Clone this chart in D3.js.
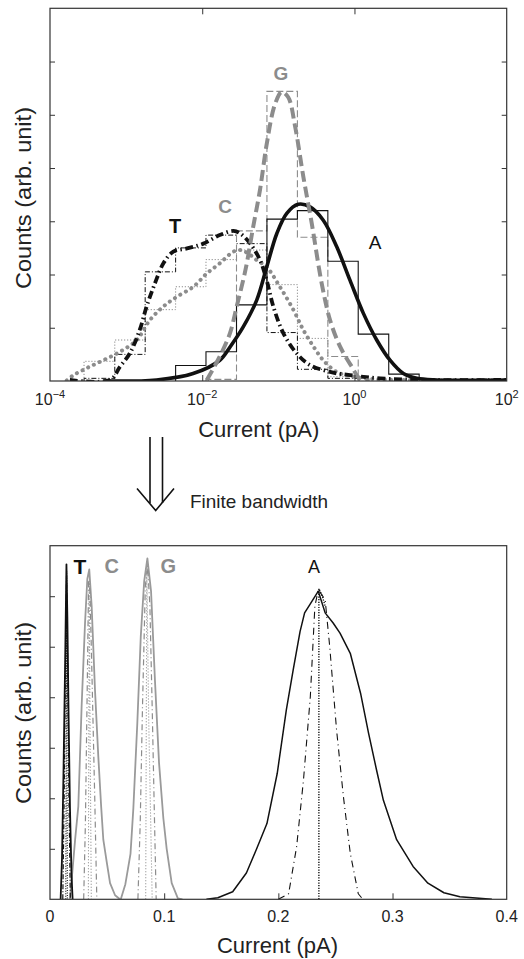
<!DOCTYPE html>
<html><head><meta charset="utf-8">
<script src="https://cdn.jsdelivr.net/npm/d3@7"></script>
<style>
html,body{margin:0;padding:0;background:#fff;}
svg{display:block;font-family:"Liberation Sans",Arial,Helvetica,sans-serif;}
</style></head>
<body>
<svg id="chart" width="524" height="959"></svg>
<script>
// ---------------- DATA ----------------
// Top panel: histogram bin edges (pA, log-spaced) and bin heights
const binEdges = [0.00028,0.00071,0.00178,0.00447,0.0112,0.0282,0.0708,0.178,0.447,1.12,2.82,7.08];
const histA = [0,0,0,0.29,0.55,1.43,3.04,3.2,2.25,0.88,0.13];
const histG = [0,0,0,0,0.03,2.82,5.44,2.7,0.46,0,0];
const histT = [0.05,0.5,2.05,2.5,2.74,2.58,0.91,0.22,0.05,0,0];
const histC = [0.37,0.77,1.34,1.77,2.28,2.46,1.81,0.8,0.08,0,0];

// Top panel: fitted curves [current pA, counts]
const curveA = [[0.0005,0],[0.00251,0.02],[0.00759,0.14],[0.017,0.39],[0.0232,0.64],[0.0347,1.02],[0.052,1.52],[0.0703,2.14],[0.0955,2.77],[0.129,3.15],[0.183,3.32],[0.261,3.27],[0.389,3.02],[0.585,2.52],[0.875,1.89],[1.31,1.27],[1.96,0.77],[2.93,0.39],[4.39,0.14],[6.58,0.05],[12,0.02],[100,0.02]];
const curveG = [[0.01148,0.02],[0.01698,0.46],[0.02317,0.9],[0.02838,1.4],[0.03715,2.1],[0.04677,2.9],[0.05754,3.6],[0.07031,4.45],[0.09036,5.2],[0.1107,5.43],[0.1349,5.33],[0.166,4.78],[0.2128,3.84],[0.2754,2.95],[0.3715,1.83],[0.4786,1.14],[0.6457,0.65],[0.9204,0.27],[1.183,0.04],[1.585,0.01]];
const curveT = [[0.000182,0.02],[0.000617,0.02],[0.000832,0.27],[0.00112,0.52],[0.00151,0.96],[0.00186,1.4],[0.0024,1.84],[0.00309,2.21],[0.00417,2.43],[0.00631,2.49],[0.01033,2.58],[0.01698,2.74],[0.0257,2.82],[0.03162,2.77],[0.04266,2.58],[0.05754,2.27],[0.07031,1.89],[0.0859,1.4],[0.1161,0.9],[0.1738,0.52],[0.2606,0.3],[0.4786,0.17],[0.875,0.11],[2.188,0.05],[10,0.02],[100,0.02]];
const curveC = [[0.000166,0.01],[0.000204,0.11],[0.000302,0.24],[0.000501,0.39],[0.000832,0.55],[0.00138,0.77],[0.00204,1.14],[0.00309,1.4],[0.00462,1.58],[0.00764,1.77],[0.01148,2.02],[0.01698,2.21],[0.0257,2.43],[0.0316,2.46],[0.0398,2.4],[0.052,2.27],[0.0703,2.14],[0.1047,1.77],[0.1585,1.33],[0.2128,0.96],[0.2884,0.65],[0.389,0.39],[0.585,0.17],[0.966,0.08],[2.19,0.03],[100,0.02]];

const topTicksX = [1e-4,1e-2,1,1e2];
const topTickLabels = [["10","−4"],["10","−2"],["10","0"],["10","2"]];
const yTicks = [1,2,3,4,5,6];

// Bottom panel: finite-bandwidth distributions [current pA, counts]
const botT_solid = [[0.0093,0],[0.0105,0.8],[0.0118,2.5],[0.0132,4.6],[0.0144,6.63],[0.0152,5.6],[0.0163,3.6],[0.0175,1.8],[0.0188,0.5],[0.0198,0]];
const botT_dashdot = [[0.0112,0],[0.0124,2.0],[0.0136,4.8],[0.0145,6.4],[0.0155,4.6],[0.0166,2.0],[0.0178,0]];
const botT_dot = [[0.0138,0],[0.0146,6.5],[0.0152,0]];
const botC_solid = [[0.0175,0],[0.019,0.39],[0.022,1.18],[0.0248,1.84],[0.0277,3.82],[0.0307,5.48],[0.0327,6.34],[0.0344,6.53],[0.0365,5.8],[0.0394,4.15],[0.0423,2.83],[0.0448,1.84],[0.0467,1.18],[0.0496,0.75],[0.0526,0.32],[0.057,0.08],[0.0613,0]];
const botC_dashdot = [[0.0295,0],[0.031,1.5],[0.0325,4.0],[0.0338,6.3],[0.035,6.1],[0.037,4.2],[0.0392,2.0],[0.041,0]];
const botC_dot = [[0.0336,0],[0.0343,6.3],[0.0352,3.0],[0.0362,0]];
const botG_solid = [[0.062,0],[0.066,0.3],[0.0705,0.9],[0.073,1.8],[0.0765,3.5],[0.0795,5.2],[0.0825,6.3],[0.0853,6.75],[0.0885,6.1],[0.092,4.3],[0.0955,2.7],[0.0993,1.6],[0.1022,1.0],[0.1066,0.32],[0.112,0.02],[0.116,0]];
const botG_dashdot = [[0.077,0],[0.079,1.5],[0.081,3.8],[0.0835,6.2],[0.0855,6.6],[0.0875,5.8],[0.0895,3.8],[0.0915,1.6],[0.093,0]];
const botG_dot = [[0.0838,0],[0.0848,6.5],[0.0865,3.5],[0.0895,0]];
const botA_solid = [[0.137,0],[0.147,0.03],[0.16,0.15],[0.172,0.52],[0.181,1.0],[0.19,1.5],[0.199,2.49],[0.207,3.75],[0.213,4.54],[0.219,5.3],[0.223,5.67],[0.228,5.85],[0.235,6.1],[0.241,5.67],[0.248,5.47],[0.254,5.27],[0.263,4.87],[0.272,4.08],[0.279,3.29],[0.286,2.56],[0.292,1.96],[0.3036,1.18],[0.318,0.65],[0.331,0.32],[0.345,0.13],[0.359,0.05],[0.387,0]];
const botA_dashdot = [[0.2,0],[0.209,0.11],[0.216,1.04],[0.222,2.36],[0.228,4.01],[0.232,5.8],[0.235,6.13],[0.241,5.93],[0.245,5.0],[0.251,3.35],[0.257,2.03],[0.263,0.91],[0.27,0.11],[0.274,0]];
const botA_dot = [[0.2355,0],[0.2355,6.15],[0.2385,6.0],[0.241,5.8]];

const botTicksX = [0,0.1,0.2,0.3,0.4];
const botTickLabels = ["0","0.1","0.2","0.3","0.4"];

// ---------------- DRAW ----------------
const svg = d3.select("#chart");
const BLACK = "#111", GRAY = "#8c8c8c", GRAYL = "#9a9a9a", FRAME = "#333";

const L = 50, R = 506.7;
const xTop = d3.scaleLog().domain([1e-4,1e2]).range([L,R]);
const yTop = d3.scaleLinear().domain([0,7]).range([381,8.3]);
const xBot = d3.scaleLinear().domain([0,0.4]).range([L,R]);
const yBot = d3.scaleLinear().domain([0,7]).range([899.3,545.7]);

const defs = svg.append("defs");
defs.append("clipPath").attr("id","clipTop").append("rect")
  .attr("x",L).attr("y",yTop(7)).attr("width",R-L).attr("height",yTop(0)-yTop(7));
defs.append("clipPath").attr("id","clipBot").append("rect")
  .attr("x",L).attr("y",yBot(7)).attr("width",R-L).attr("height",yBot(0)-yBot(7));

// ===== TOP PANEL =====
const gTop = svg.append("g");
const plotTop = gTop.append("g").attr("clip-path","url(#clipTop)");

function histPath(h){
  let i0 = h.findIndex(v=>v>0), i1 = h.length-1;
  while(i1>0 && h[i1]===0) i1--;
  const pts = [[binEdges[i0],0]];
  for(let i=i0;i<=i1;i++) pts.push([binEdges[i],h[i]]);
  pts.push([binEdges[i1+1],h[i1]]);
  pts.push([binEdges[i1+1],0]);
  return d3.line().x(d=>xTop(d[0])).y(d=>yTop(d[1])).curve(d3.curveStepAfter)(pts);
}
plotTop.append("path").attr("d",histPath(histC)).attr("fill","none").attr("stroke",GRAY).attr("stroke-width",1).attr("stroke-dasharray","1.2 1.8");
plotTop.append("path").attr("d",histPath(histT)).attr("fill","none").attr("stroke",BLACK).attr("stroke-width",1).attr("stroke-dasharray","5 2 1 2");
plotTop.append("path").attr("d",histPath(histG)).attr("fill","none").attr("stroke",GRAY).attr("stroke-width",1.1).attr("stroke-dasharray","7 3");
plotTop.append("path").attr("d",histPath(histA)).attr("fill","none").attr("stroke",BLACK).attr("stroke-width",1.1);

const lineTop = d3.line().x(d=>xTop(d[0])).y(d=>yTop(d[1])).curve(d3.curveCatmullRom.alpha(0.5));
plotTop.append("path").attr("d",lineTop(curveC)).attr("fill","none").attr("stroke",GRAY)
  .attr("stroke-width",4).attr("stroke-linecap","round").attr("stroke-dasharray","0.1 6.2");
plotTop.append("path").attr("d",lineTop(curveT)).attr("fill","none").attr("stroke",BLACK)
  .attr("stroke-width",3.8).attr("stroke-dasharray","8 3.5 1.5 3.5");
plotTop.append("path").attr("d",lineTop(curveA)).attr("fill","none").attr("stroke",BLACK)
  .attr("stroke-width",3.6);
plotTop.append("path").attr("d",lineTop(curveG)).attr("fill","none").attr("stroke",GRAY)
  .attr("stroke-width",4).attr("stroke-dasharray","11 5");

// frame
gTop.append("rect").attr("x",L).attr("y",yTop(7)).attr("width",R-L).attr("height",yTop(0)-yTop(7))
  .attr("fill","none").attr("stroke",FRAME).attr("stroke-width",1.2);
// axes ticks (inward)
function noDomain(g){ g.select(".domain").remove(); g.selectAll("line").attr("stroke",FRAME).attr("stroke-width",1); }
gTop.append("g").attr("transform",`translate(${L},0)`).call(d3.axisLeft(yTop).tickValues(yTicks).tickSize(-5).tickFormat("")).call(noDomain);
gTop.append("g").attr("transform",`translate(${R},0)`).call(d3.axisRight(yTop).tickValues(yTicks).tickSize(-5).tickFormat("")).call(noDomain);
gTop.append("g").attr("transform",`translate(0,${yTop(0)})`).call(d3.axisBottom(xTop).tickValues(topTicksX.slice(1,3)).tickSize(-6).tickFormat("")).call(noDomain);
gTop.append("g").attr("transform",`translate(0,${yTop(7)})`).call(d3.axisTop(xTop).tickValues(topTicksX.slice(1,3)).tickSize(-6).tickFormat("")).call(noDomain);

// tick labels with superscripts
topTicksX.forEach((v,i)=>{
  const t = gTop.append("text").attr("x",xTop(v)).attr("y",405).attr("text-anchor","middle")
    .attr("font-size",16).attr("fill","#222");
  t.append("tspan").text(topTickLabels[i][0]);
  t.append("tspan").attr("font-size",11).attr("dy",-7).text(topTickLabels[i][1]);
});
gTop.append("text").attr("x",258.7).attr("y",437).attr("text-anchor","middle").attr("font-size",22).attr("fill","#222").text("Current (pA)");
gTop.append("text").attr("transform","translate(31,198) rotate(-90)").attr("text-anchor","middle")
  .attr("font-size",22).attr("fill","#222").attr("textLength",182).attr("lengthAdjust","spacingAndGlyphs").text("Counts (arb. unit)");

// series labels top
gTop.append("text").attr("x",281).attr("y",80).attr("text-anchor","middle").attr("font-size",19).attr("font-weight","bold").attr("fill",GRAY).text("G");
gTop.append("text").attr("x",225).attr("y",212.5).attr("text-anchor","middle").attr("font-size",19).attr("font-weight","bold").attr("fill",GRAY).text("C");
gTop.append("text").attr("x",175).attr("y",233).attr("text-anchor","middle").attr("font-size",20).attr("font-weight","bold").attr("fill",BLACK).text("T");
gTop.append("text").attr("x",375).attr("y",248.5).attr("text-anchor","middle").attr("font-size",19).attr("fill",BLACK).text("A");

// ===== ARROW & CAPTION =====
const ga = svg.append("g").attr("stroke","#111").attr("stroke-width",1.6).attr("fill","none");
ga.append("line").attr("x1",150).attr("y1",437).attr("x2",150).attr("y2",503);
ga.append("line").attr("x1",162.5).attr("y1",437).attr("x2",162.5).attr("y2",503);
ga.append("polyline").attr("points","137,488.5 155.7,510.5 174,488.5");
svg.append("text").attr("x",190).attr("y",508).attr("font-size",19).attr("fill","#222")
  .attr("textLength",138).attr("lengthAdjust","spacingAndGlyphs").text("Finite bandwidth");

// ===== BOTTOM PANEL =====
const gBot = svg.append("g");
const plotBot = gBot.append("g").attr("clip-path","url(#clipBot)");
const lineBot = d3.line().x(d=>xBot(d[0])).y(d=>yBot(d[1]));
function drawBot(data,color,w,dash){
  const p = plotBot.append("path").attr("d",lineBot(data)).attr("fill","none").attr("stroke",color).attr("stroke-width",w).attr("stroke-linejoin","round");
  if(dash) p.attr("stroke-dasharray",dash);
}
drawBot(botC_solid,GRAYL,1.8);
drawBot(botC_dashdot,GRAY,1.2,"6 3 1 3");
drawBot(botC_dot,GRAY,1.1,"1 2");
drawBot(botG_solid,GRAYL,1.8);
drawBot(botG_dashdot,GRAY,1.2,"6 3 1 3");
drawBot(botG_dot,GRAY,1.1,"1 2");
drawBot(botT_solid,BLACK,1.8);
drawBot(botT_dashdot,BLACK,1.2,"5 2 1 2");
drawBot(botT_dot,BLACK,1.1,"1 1.5");
drawBot(botA_solid,BLACK,1.5);
drawBot(botA_dashdot,BLACK,1.1,"7 4 1 4");
drawBot(botA_dot,BLACK,1.4,"1.2 1.4");

gBot.append("rect").attr("x",L).attr("y",yBot(7)).attr("width",R-L).attr("height",yBot(0)-yBot(7))
  .attr("fill","none").attr("stroke",FRAME).attr("stroke-width",1.2);
gBot.append("g").attr("transform",`translate(${L},0)`).call(d3.axisLeft(yBot).tickValues(yTicks).tickSize(-5).tickFormat("")).call(noDomain);
gBot.append("g").attr("transform",`translate(0,${yBot(0)})`).call(d3.axisBottom(xBot).tickValues(botTicksX.slice(1,4)).tickSize(-6).tickFormat("")).call(noDomain);

botTicksX.forEach((v,i)=>{
  gBot.append("text").attr("x",xBot(v)).attr("y",921.7).attr("text-anchor","middle").attr("font-size",16).attr("fill","#222").text(botTickLabels[i]);
});
gBot.append("text").attr("x",277.5).attr("y",953).attr("text-anchor","middle").attr("font-size",22).attr("fill","#222").text("Current (pA)");
gBot.append("text").attr("transform","translate(31,713) rotate(-90)").attr("text-anchor","middle")
  .attr("font-size",22).attr("fill","#222").attr("textLength",182).attr("lengthAdjust","spacingAndGlyphs").text("Counts (arb. unit)");

gBot.append("text").attr("x",80).attr("y",574).attr("text-anchor","middle").attr("font-size",21).attr("font-weight","bold").attr("fill",BLACK).text("T");
gBot.append("text").attr("x",111.7).attr("y",572.5).attr("text-anchor","middle").attr("font-size",20).attr("font-weight","bold").attr("fill",GRAY).text("C");
gBot.append("text").attr("x",168.3).attr("y",572.5).attr("text-anchor","middle").attr("font-size",20).attr("font-weight","bold").attr("fill",GRAY).text("G");
gBot.append("text").attr("x",314).attr("y",573).attr("text-anchor","middle").attr("font-size",18).attr("fill",BLACK).text("A");
</script>
</body></html>
